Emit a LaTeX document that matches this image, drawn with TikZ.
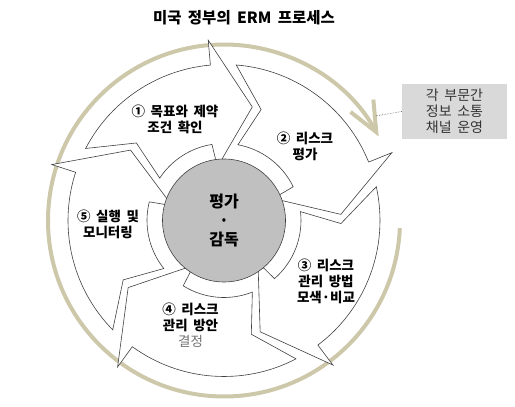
\documentclass[tikz,border=0pt]{standalone}
\usepackage{fontspec}
\setmainfont[WordSpace=1.8]{Noto Sans CJK KR}
\usetikzlibrary{arrows.meta,calc}
\definecolor{ringtan}{RGB}{205,200,170}
\definecolor{hubgray}{RGB}{192,192,192}
\definecolor{notegray}{RGB}{217,217,217}
\tikzset{
  stagearrow/.style={draw=black!75,line width=0.6pt,fill=white,line join=miter},
  stagelabel/.style={align=center,inner sep=0pt,font=\fontsize{13.5}{16}\selectfont\bfseries},
  hub/.style={circle,draw=black!75,line width=0.6pt,fill=hubgray,minimum size=123pt,inner sep=0pt,
    align=center,font=\fontsize{16}{19}\selectfont\bfseries},
  ringflow/.style={draw=ringtan,line width=4pt,-{Straight Barb[length=30pt,width=26pt]}},
  notebox/.style={fill=notegray,minimum width=105pt,minimum height=55pt,inner sep=0pt,align=center,
    text=black!80,font=\fontsize{14}{16}\selectfont},
  noteline/.style={draw=black!60,line width=0.6pt,densely dotted}
}
\begin{document}
\begin{tikzpicture}[x=1pt,y=1pt,
  titletext/.style={font=\fontsize{15.5}{18}\selectfont\bfseries,inner sep=0pt}
]
\useasboundingbox (0,0) rectangle (515,407);
\node[titletext] (title) at (244,389) {미국 정부의 ERM 프로세스};

\begin{scope}[shift={(224,186.5)}]
\draw[ringflow] (-2.5:176) arc[start angle=-2.5,end angle=-331.5,radius=176];
\foreach \tl/\hd in {162/95,95/22,22/-53,-53/-126,-126/-198}
  \draw[stagearrow] ({\tl-9.5}:156) arc[start angle={\tl-9.5},end angle=\hd,radius=156]
    -- (\hd:181) -- ({\hd-19}:117) -- ({\hd+2}:54) -- ({\hd+4}:77)
    arc[start angle={\hd+4},end angle={\tl-15.4},radius=77]
    -- ({\tl-23.5}:117) -- cycle;
\end{scope}

\node[hub] (hub) at (224,186.5) {평가\\·\\감독};

\node[stagelabel] (goal) at (175,287.5) {① 목표와 제약\\조건 확인};
\node[stagelabel] (assess) at (305,261) {② 리스크\\평가};
\node[stagelabel] (method) at (326,126) {③ 리스크\\관리 방법\\모색·비교};
\node[stagelabel] (decide) at (190.5,81.5) {④ 리스크\\관리 방안\\{\mdseries\color{black!55}결정}};
\node[stagelabel] (monitor) at (108,182.5) {⑤ 실행 및\\모니터링};

\node[notebox] (note) at (454.5,295.5) {각 부문간\\정보 소통\\채널 운영};
\coordinate (ringpoint) at (375,291);
\draw[noteline] (note.west) -- (ringpoint);
\end{tikzpicture}
\end{document}
